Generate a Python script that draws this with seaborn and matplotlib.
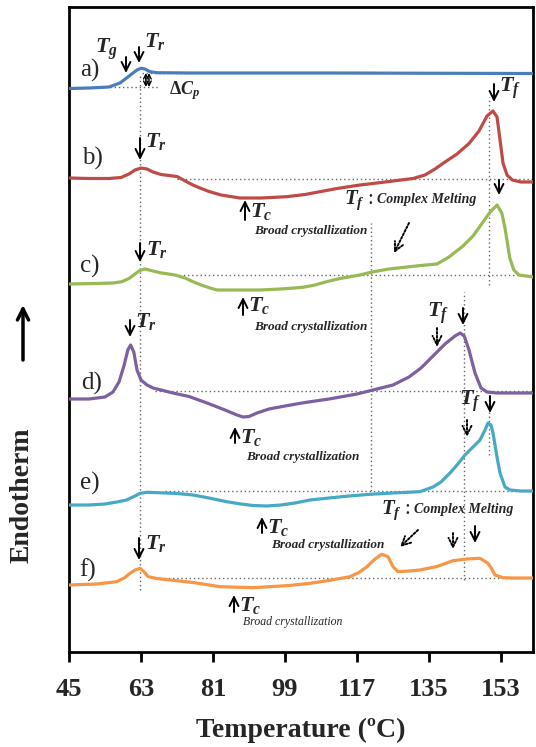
import numpy as np
import pandas as pd
import matplotlib
matplotlib.use('Agg')
import matplotlib.pyplot as plt
import seaborn as sns

# DSC heating scans, signal relative to the start of each scan (arbitrary units)
samples = ['a)', 'b)', 'c)', 'd)', 'e)', 'f)']
offsets = [564, 474, 368, 253, 147, 67]   # vertical shift used to stack the scans
colors = ['#4A7EBB', '#BE4B48', '#98B954', '#7D60A0', '#46AAC5', '#F79646']

temp_a = [45, 50, 55, 57.75, 59.4, 61, 62, 63, 64, 65.25, 67, 75, 110, 161]
sig_a = [-0.5, 0, 1, 5, 10, 15, 18, 19.7, 19, 16.3, 15.3, 15, 15, 14.5]

temp_b = [45, 50, 55, 58, 60, 61.5, 63, 64.5, 66, 68, 70, 72, 74.4, 76, 77.75, 80, 83, 87.75, 93, 99.4,
          104, 108, 112, 117.75, 122, 127, 131, 134, 136.5, 139, 142, 145, 147.5, 149.5, 151, 152, 152.7,
          153.5, 154.5, 155.8, 158, 161]
sig_b = [0, -0.5, -0.5, 0.5, 4, 8, 10, 9, 6, 3.5, 2.5, 1.5, -3.7, -7, -10, -13.5, -17, -20, -20, -18.7,
         -16.5, -13.5, -10.5, -7, -5, -2.5, -0.5, 3, 9, 16, 24, 34.5, 47, 62, 67, 61, 40,
         15, 3, -2, -4, -4]

temp_c = [45, 52, 56, 58.2, 60, 61.5, 62.7, 64, 65.5, 67.75, 71.5, 74, 76, 78, 80.25, 82, 86, 92.75, 98, 103.5,
          106.5, 109.4, 112.75, 117.75, 120.75, 125, 129.5, 133, 137, 140, 143.5, 146, 148.5, 150.3, 152,
          153.2, 154, 155.2, 156.2, 157.5, 161]
sig_c = [0, 0.5, 1, 2.3, 5.5, 10, 13.5, 15, 13.5, 11.3, 9, 6, 2.3, -1, -4, -6, -6, -6, -5, -3.3,
         -1, 2.3, 5.5, 9, 12, 15, 17, 18.5, 20, 27, 38, 48, 62, 72, 79,
         71, 56, 26, 14, 9, 7]

temp_d = [45, 50, 54, 56, 57.5, 58.8, 59.7, 60.4, 61.2, 62, 63, 64.5, 66, 71, 75, 79.5, 84, 87, 88.5, 90,
          92, 95, 99, 104, 110, 117, 121, 126, 130, 133, 136, 139, 141.5, 142.8, 143.8, 145, 146.5, 148,
          149.5, 152, 161]
sig_d = [0, 0, 2, 7, 17, 34, 49, 54, 47, 29, 19, 14, 11, 6, 2.5, -4, -11, -16, -18, -17.5,
         -14, -10, -7, -3.5, 0, 5, 9, 14, 22, 31, 43, 55, 63, 66, 63, 49, 26, 11,
         7, 6, 6]

temp_e = [45, 50, 54, 57, 59.4, 61, 62.75, 64.5, 68, 72, 76, 80, 84.4, 88, 91, 94.4, 98, 101.5, 105.25, 110,
          115, 120.25, 126, 132.75, 136, 138, 140.25, 142, 144, 145.75, 147.75, 149, 149.75, 150.5, 151,
          152, 152.75, 154, 155.25, 158, 161]
sig_e = [0, 0, 1, 3, 5, 8, 11.7, 12.7, 12.2, 11.5, 10, 7, 3.3, 1, -0.5, -1, 0, 2, 5, 7,
         9, 10.7, 12, 13.3, 18, 23, 32, 40, 50, 57, 65, 75, 82, 80, 72,
         48, 32, 18, 15, 14, 14]

temp_f = [45, 52, 56.9, 59, 60.25, 61.5, 62.75, 63.8, 64.8, 67, 70.25, 76, 82.75, 91, 100, 105.25, 110,
          115.25, 117.5, 119.5, 121.5, 123.2, 124.75, 126, 127.25, 130, 132.75, 137, 141, 144.5, 147.75,
          149.75, 150.7, 151.5, 153.5, 156, 161]
sig_f = [0, 1, 3.3, 7.5, 11.7, 15, 16.7, 13, 8.3, 6.5, 5, 2.5, -1.7, -2.7, -0.5, 1.7, 4.5,
         8.3, 12.5, 18.3, 26, 30.7, 28.3, 18.3, 13.3, 14, 15, 18.5, 24.3, 26, 26.7,
         21.7, 16, 10, 7.3, 7, 7]

temps = [temp_a, temp_b, temp_c, temp_d, temp_e, temp_f]
sigs = [sig_a, sig_b, sig_c, sig_d, sig_e, sig_f]

# dotted guide lines: baseline level (stacked units) and start temperature
base_levels = [473.5, 377, 261, 161, 74]
base_start = [72, 71.5, 66.5, 69, 67.75]

tick_vals = [45, 63, 81, 99, 117, 135, 153]

frames = []
for name, off, t, s in zip(samples, offsets, temps, sigs):
    frames.append(pd.DataFrame({'T': t, 'y': np.array(s) + off, 'sample': name}))
df = pd.concat(frames, ignore_index=True)

sns.set_style('white')
plt.rcParams['font.family'] = ['Liberation Serif', 'DejaVu Serif']
plt.rcParams['mathtext.fontset'] = 'custom'
plt.rcParams['mathtext.rm'] = 'Liberation Serif:bold'
plt.rcParams['mathtext.it'] = 'Liberation Serif:italic:bold'
plt.rcParams['mathtext.bf'] = 'Liberation Serif:bold'

fig = plt.figure(figsize=(5.36, 7.47), dpi=100)
ax = fig.add_axes([69 / 536, 1 - 652 / 747, 464 / 536, 645 / 747])

dot = dict(color='#666666', lw=1.0, ls=(0, (1, 2)), zorder=1)

# guide lines
ax.plot([62.75, 62.75], [62, 577], **dot)
ax.plot([120.5, 120.5], [157, 429], **dot)
ax.plot([149.9, 149.9], [367, 555], **dot)
ax.plot([149.9, 149.9], [197, 255], **dot)
ax.plot([143.75, 143.75], [72, 360], **dot)
ax.plot([55.25, 67.75], [565, 565], **dot)
ax.plot([63.25, 76], [579, 579], **dot)
for lvl, t0 in zip(base_levels, base_start):
    ax.plot([t0, 161], [lvl, lvl], **dot)

sns.lineplot(data=df, x='T', y='y', hue='sample', palette=colors, estimator=None,
             sort=False, lw=2.3, legend=False, ax=ax, zorder=3,
             solid_joinstyle='round', solid_capstyle='round')


def arrow(x, y_tail, y_tip, dashed=False, x_tip=None):
    ax.annotate('', xy=(x if x_tip is None else x_tip, y_tip), xytext=(x, y_tail),
                arrowprops=dict(arrowstyle='->', lw=1.4, color='black', mutation_scale=16,
                                ls=(0, (1, 1)) if dashed else '-', shrinkA=0, shrinkB=0),
                zorder=4)


def sym(x, y, s, size=16):
    ax.text(x, y, s, fontsize=size, ha='left', va='center', zorder=4)


def note(x, y, s, size=9.5, weight='bold'):
    ax.text(x, y, s, fontsize=size, style='italic', weight=weight, ha='center', va='center', zorder=4)


# sample labels
for name, (lx, ly) in zip(samples, [(50.25, 582), (50.75, 494), (50.25, 386),
                                    (50.75, 269), (50.25, 169), (49.75, 82)]):
    ax.text(lx, ly, name, fontsize=18, ha='center', va='center')

# a)
arrow(59.25, 595, 579)
arrow(62.5, 605, 589)
sym(51.5, 603, r'$T_g$')
sym(63.8, 611, r'$T_r$')
ax.annotate('', xy=(64.2, 565), xytext=(64.2, 579),
            arrowprops=dict(arrowstyle='<->', lw=1.0, color='black', mutation_scale=8,
                            shrinkA=0, shrinkB=0))
ax.annotate('', xy=(65.0, 565), xytext=(65.0, 579),
            arrowprops=dict(arrowstyle='<->', lw=1.0, color='black', mutation_scale=8,
                            shrinkA=0, shrinkB=0))
sym(70.0, 561, r'$\Delta C_p$', size=13)

# b)
arrow(62.75, 514, 492)
sym(64.0, 510, r'$T_r$')
arrow(151.25, 568, 550)
sym(152.6, 564, r'$T_f$')
arrow(89, 432, 452)
sym(90.2, 441, r'$T_c$')
note(105.5, 421, 'Broad crystallization')
sym(113.8, 452, r'$T_f$', size=15)
sym(119.6, 453, ':', size=15)
ax.text(122.0, 452, 'Complex Melting', fontsize=10, style='italic', weight='bold',
        ha='left', va='center')
arrow(130, 429, 399, dashed=True, x_tip=126.25)

# c)
arrow(62.75, 409, 390)
sym(64.2, 402, r'$T_r$')
arrow(152.5, 472, 457)
arrow(88.5, 337, 355)
sym(89.7, 347, r'$T_c$')
note(105.5, 325, 'Broad crystallization')

# d)
arrow(60.25, 332, 315)
sym(61.5, 330, r'$T_r$')
arrow(86.5, 209, 225)
sym(87.7, 215, r'$T_c$')
note(103.5, 195, 'Broad crystallization')
sym(134.6, 339, r'$T_f$')
arrow(137, 324, 305, dashed=True)
arrow(143.5, 344, 327)

# e)
sym(142.5, 251, r'$T_f$')
arrow(144.5, 232, 215, dashed=True)
arrow(150.25, 256, 239)
arrow(93.25, 119, 135)
sym(94.5, 125, r'$T_c$')
note(109.75, 107, 'Broad crystallization')

# f)
sym(123.0, 142, r'$T_f$', size=15)
sym(128.9, 143, ':', size=15)
ax.text(131.3, 142, 'Complex Melting', fontsize=10, style='italic', weight='bold',
        ha='left', va='center')
arrow(132.25, 122, 105, dashed=True, x_tip=127.75)
arrow(141, 119, 103, dashed=True)
arrow(146.5, 126, 109)
arrow(62.5, 114, 92)
sym(64.0, 109, r'$T_r$')
arrow(86.25, 40, 57)
sym(87.5, 47, r'$T_c$')
note(101, 30, 'Broad crystallization', size=8.5, weight='normal')

ax.set_xlim(45, 161)
ax.set_ylim(0, 645)
ax.set_xticks(tick_vals)
ax.set_xticklabels([str(v) for v in tick_vals], fontsize=19, weight='bold')
ax.set_yticks([])
ax.tick_params(axis='x', direction='out', length=7, width=2, pad=12, bottom=True, color='black')
for sp in ax.spines.values():
    sp.set_linewidth(2)
    sp.set_color('black')
ax.set_xlabel('Temperature (ºC)', fontsize=20, weight='bold', labelpad=12)
ax.set_ylabel('')

fig.text(22 / 536, 1 - 495 / 747, 'Endotherm', rotation=90, fontsize=20, weight='bold',
         ha='center', va='center')
ax.annotate('', xy=(23 / 536, 1 - 305 / 747), xytext=(23 / 536, 1 - 360 / 747),
            xycoords='figure fraction', textcoords='figure fraction',
            arrowprops=dict(arrowstyle='->', lw=2.5, color='black', mutation_scale=20,
                            shrinkA=0, shrinkB=0))

fig.savefig('out.png', dpi=100)
